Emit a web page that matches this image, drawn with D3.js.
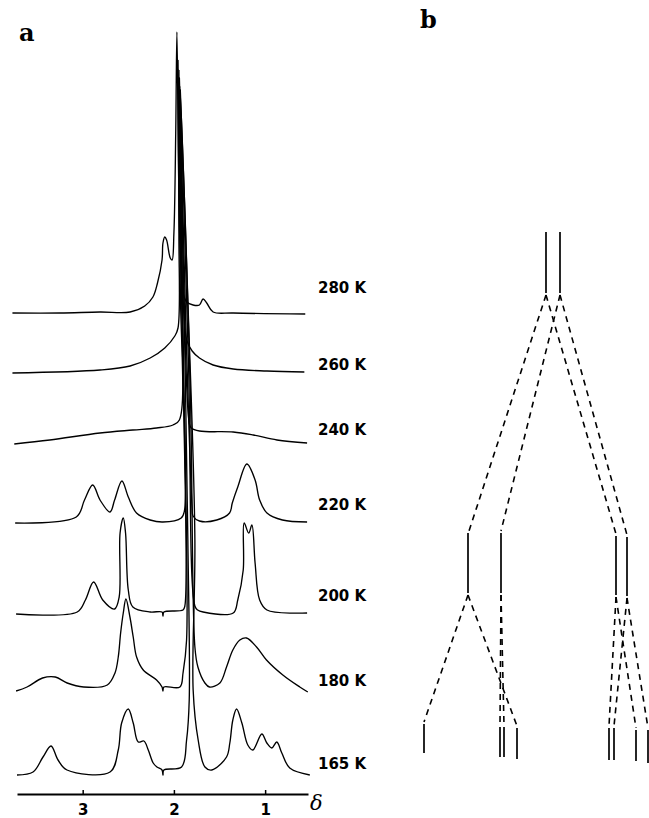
<!DOCTYPE html>
<html>
<head>
<meta charset="utf-8">
<script src="https://cdn.jsdelivr.net/npm/d3@7"></script>
<style>
  body { margin: 0; background: #fff; }
  .spec { fill: none; stroke: #000; stroke-width: 1.35; stroke-linejoin: round; }
  .tlabel { font-family: "DejaVu Sans", sans-serif; font-weight: bold; font-size: 15px; }
  .panel { font-family: "DejaVu Serif", serif; font-weight: bold; font-size: 24px; }
</style>
</head>
<body>
<div id="chart"></div>
<script>
// temperatures, top to bottom
var temps = ["280 K", "260 K", "240 K", "220 K", "200 K", "180 K", "165 K"];

// spectra: [delta (ppm), intensity above baseline]
var s280 = [[3.77,1],[3.25,1],[2.81,2],[2.48,2],[2.32,8],[2.23,17],[2.18,31],[2.13,54],[2.12,71],[2.10,77],
  [2.08,74],[2.04,56],[2.02,54],[2.00,81],[1.98,181],[1.967,282],[1.95,150],[1.93,60],[1.90,21],[1.86,12],
  [1.79,9],[1.72,9],[1.68,15],[1.64,11],[1.57,2],[1.35,1],[0.56,0]];
var s260 = [[3.77,0],[2.81,3],[2.48,7],[2.26,15],[2.10,25],[1.99,37],[1.955,45],[1.945,140],[1.955,313],
  [1.925,140],[1.88,45],[1.86,33],[1.80,22],[1.72,15],[1.57,8],[1.35,4],[0.98,2],[0.57,1]];
var s240 = [[3.75,0],[3.36,4],[2.81,11],[2.45,14],[2.19,16],[2.01,19],[1.94,24],[1.93,160],[1.945,374],
  [1.89,150],[1.83,20],[1.81,16],[1.72,13],[1.35,12],[1.13,9],[0.87,4],[0.54,1]];
var s220 = [[3.74,0],[3.07,6],[2.98,23],[2.89,38],[2.81,23],[2.70,11],[2.65,23],[2.57,42],[2.50,26],[2.41,10],
  [2.26,3],[2.12,1],[1.92,5],[1.885,12],[1.912,200],[1.94,445],[1.87,200],[1.80,15],[1.79,7],[1.72,2],
  [1.53,3],[1.39,10],[1.36,20],[1.30,36],[1.20,59],[1.11,43],[1.06,23],[0.98,10],[0.81,3],[0.54,1]];
var s200 = [[3.73,0],[3.06,2],[2.97,14],[2.88,32],[2.78,14],[2.65,5],[2.60,17],[2.59,81],[2.555,96],[2.53,81],
  [2.50,24],[2.45,7],[2.26,2],[2.13,2],[2.12,-2],[2.11,2],[1.90,4],[1.88,8],[1.90,250],[1.94,532],
  [1.84,250],[1.77,8],[1.74,4],[1.68,2],[1.35,1],[1.30,14],[1.24,44],[1.23,91],[1.18,81],[1.145,89],
  [1.11,51],[1.06,14],[0.98,4],[0.54,1]];
var s180 = [[3.73,0],[3.61,4],[3.44,13],[3.30,14],[3.17,8],[2.99,4],[2.73,6],[2.646,18],[2.61,34],[2.584,58],
  [2.555,78],[2.526,92],[2.482,74],[2.446,54],[2.409,34],[2.336,21],[2.19,11],[2.13,4],[2.12,0],[2.11,4],
  [1.934,4],[1.90,18],[1.861,51],[1.89,300],[1.935,605],[1.82,300],[1.77,44],[1.737,24],[1.66,8],[1.61,4],
  [1.496,8],[1.423,24],[1.354,41],[1.277,51],[1.204,53],[1.094,44],[0.985,31],[0.806,16],[0.62,4],[0.532,-1]];
var s165 = [[3.72,0],[3.544,3],[3.435,18],[3.347,29],[3.27,15],[3.172,5],[2.70,3],[2.61,25],[2.573,52],
  [2.50,66],[2.446,52],[2.391,33],[2.329,34],[2.281,25],[2.227,12],[2.186,8],[2.13,5],[2.12,0],[2.11,5],
  [1.916,8],[1.861,35],[1.832,75],[1.847,235],[1.89,475],[1.93,685],[1.847,475],[1.77,235],[1.789,85],
  [1.734,35],[1.66,8],[1.584,5],[1.423,18],[1.387,32],[1.354,55],[1.313,66],[1.255,52],[1.19,30],
  [1.135,25],[1.036,41],[0.981,32],[0.927,27],[0.872,33],[0.817,22],[0.73,7],[0.51,0]];
var spectra = [s280, s260, s240, s220, s200, s180, s165];

var tickValues = [3, 2, 1];

// panel b: solid lines [x, y1, y2] and dashed links [x1, y1, x2, y2]
var solidLines = [[146,12,73],[160,12,73],
  [68,313,373],[101,313,373],[216,316,375],[227,317,376],
  [24,504,533],[100,507,537],[104,507,537],[117,508,539],[209,508,540],[214,508,540],[236,510,541],[248,510,543]];
var dashLinks = [[146,75,69,311],[160,75,101,311],[146,75,216,314],[160,75,227,315],
  [68,375,24,502],[68,375,117,506],[101,375,100,505],[101,375,104,505],
  [216,377,209,506],[227,378,214,506],[216,377,236,508],[227,378,248,508]];

// layout
var W = 649, H = 818;
var offsets = [480, 421, 350, 271, 180, 103, 19];        // baseline height above axis
var labelY = [293, 370, 435, 510, 601, 686, 769];

var svg = d3.select("#chart").append("svg")
  .attr("width", W).attr("height", H);
svg.append("rect").attr("width", W).attr("height", H).attr("fill", "#fff");

var x = d3.scaleLinear().domain([3.72, 0.53]).range([17, 308]);
var y = d3.scaleLinear().domain([0, 760]).range([794, 34]);

spectra.forEach(function (s, i) {
  var line = d3.line()
    .x(function (d) { return x(d[0]); })
    .y(function (d) { return y(offsets[i] + d[1]); })
    .curve(d3.curveCatmullRom.alpha(0.5));
  svg.append("path").attr("class", "spec").attr("d", line(s));
  svg.append("text").attr("class", "tlabel")
    .attr("x", 318).attr("y", labelY[i]).text(temps[i]);
});

// x axis
var xAxis = d3.axisBottom(x).tickValues(tickValues).tickSize(-4).tickSizeOuter(0)
  .tickFormat(d3.format("d"));
var ax = svg.append("g").attr("transform", "translate(0,794)").call(xAxis);
ax.select(".domain").attr("stroke-width", 2);
ax.selectAll(".tick line").attr("stroke-width", 1.5);
ax.selectAll(".tick text")
  .attr("y", 21).attr("dy", 0)
  .style("font-family", "DejaVu Sans, sans-serif")
  .style("font-weight", "bold").style("font-size", "15px");
svg.append("text").attr("x", 310).attr("y", 810)
  .style("font-family", "DejaVu Serif, serif").style("font-style", "italic")
  .style("font-size", "21px").text("δ");

// panel b
var xb = d3.scaleLinear().domain([0, 250]).range([400, 650]);
var yb = d3.scaleLinear().domain([0, 550]).range([220, 770]);
svg.selectAll(".solid").data(solidLines).enter().append("line")
  .attr("x1", function (d) { return xb(d[0]); })
  .attr("x2", function (d) { return xb(d[0]); })
  .attr("y1", function (d) { return yb(d[1]); })
  .attr("y2", function (d) { return yb(d[2]); })
  .attr("stroke", "#000").attr("stroke-width", 1.7);
svg.selectAll(".dash").data(dashLinks).enter().append("line")
  .attr("x1", function (d) { return xb(d[0]); })
  .attr("y1", function (d) { return yb(d[1]); })
  .attr("x2", function (d) { return xb(d[2]); })
  .attr("y2", function (d) { return yb(d[3]); })
  .attr("stroke", "#000").attr("stroke-width", 1.6)
  .attr("stroke-dasharray", "6,5");

svg.append("text").attr("class", "panel").attr("x", 19).attr("y", 41).text("a");
svg.append("text").attr("class", "panel").attr("x", 420).attr("y", 28).text("b");
</script>
</body>
</html>
